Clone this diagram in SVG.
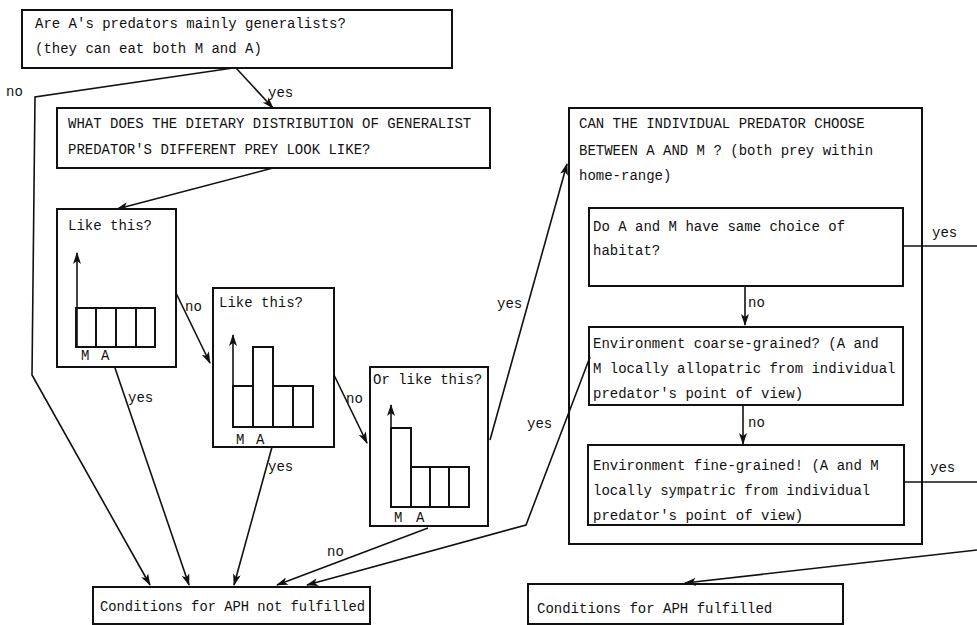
<svg xmlns="http://www.w3.org/2000/svg" width="977" height="625" viewBox="0 0 977 625">
<style>
  text { font-family: "Liberation Mono", "DejaVu Sans Mono", monospace; font-size: 14px; fill: #111; }
  .box { fill: #fff; stroke: #111; stroke-width: 2; }
  .bar { fill: none; stroke: #111; stroke-width: 2; }
  .conn { fill: none; stroke: #111; stroke-width: 1.6; }
  .arr { marker-end: url(#ah); }
</style>
<defs>
  <marker id="ah" viewBox="0 0 12 8" refX="11" refY="4" markerWidth="12" markerHeight="8" markerUnits="userSpaceOnUse" orient="auto">
    <path d="M0,0 L12,4 L0,8 L3,4 z" fill="#111"/>
  </marker>
</defs>
<rect width="977" height="625" fill="#fff"/>

<g id="q-generalists">
  <rect class="box" x="22" y="10" width="430" height="58"/>
  <text x="35" y="28">Are A's predators mainly generalists?</text>
  <text x="35" y="53">(they can eat both M and A)</text>
</g>

<g id="q-dietary">
  <rect class="box" x="57" y="108" width="433" height="60"/>
  <text x="68" y="128">WHAT DOES THE DIETARY DISTRIBUTION OF GENERALIST</text>
  <text x="68" y="154">PREDATOR'S DIFFERENT PREY LOOK LIKE?</text>
</g>

<g id="chart-even">
  <rect class="box" x="57" y="209" width="119" height="158"/>
  <text x="68" y="230">Like this?</text>
  <line class="conn arr" x1="77" y1="347" x2="77" y2="253"/>
  <rect class="bar" x="76" y="308" width="20" height="39"/>
  <rect class="bar" x="96" y="308" width="20" height="39"/>
  <rect class="bar" x="116" y="308" width="20" height="39"/>
  <rect class="bar" x="136" y="308" width="19" height="39"/>
  <text x="81" y="360">M</text>
  <text x="101" y="360">A</text>
</g>

<g id="chart-a-peak">
  <rect class="box" x="213" y="288" width="121" height="159"/>
  <text x="219" y="307">Like this?</text>
  <line class="conn arr" x1="233" y1="427" x2="233" y2="335"/>
  <rect class="bar" x="233" y="386" width="20" height="41"/>
  <rect class="bar" x="253" y="347" width="20" height="80"/>
  <rect class="bar" x="273" y="386" width="20" height="41"/>
  <rect class="bar" x="293" y="386" width="20" height="41"/>
  <text x="236" y="444">M</text>
  <text x="256" y="444">A</text>
</g>

<g id="chart-m-peak">
  <rect class="box" x="370" y="367" width="118" height="159"/>
  <text x="373" y="384">Or like this?</text>
  <line class="conn arr" x1="391" y1="507" x2="391" y2="405"/>
  <rect class="bar" x="391" y="428" width="20" height="79"/>
  <rect class="bar" x="411" y="467" width="19" height="40"/>
  <rect class="bar" x="430" y="467" width="19" height="40"/>
  <rect class="bar" x="449" y="467" width="20" height="40"/>
  <text x="394" y="522">M</text>
  <text x="416" y="522">A</text>
</g>

<g id="q-choose">
  <rect class="box" x="569" y="108" width="353" height="436"/>
  <text x="579" y="128">CAN THE INDIVIDUAL PREDATOR CHOOSE</text>
  <text x="579" y="155">BETWEEN A AND M ? (both prey within</text>
  <text x="579" y="180">home-range)</text>
</g>

<g id="q-habitat">
  <rect class="box" x="589" y="208" width="314" height="78"/>
  <text x="593" y="231">Do A and M have same choice of</text>
  <text x="593" y="255">habitat?</text>
</g>

<g id="q-coarse">
  <rect class="box" x="589" y="327" width="314" height="78"/>
  <text x="593" y="348">Environment coarse-grained? (A and</text>
  <text x="593" y="373">M locally allopatric from individual</text>
  <text x="593" y="398">predator's point of view)</text>
</g>

<g id="fine-grained">
  <rect class="box" x="588" y="445" width="316" height="80"/>
  <text x="593" y="470">Environment fine-grained! (A and M</text>
  <text x="593" y="495">locally sympatric from individual</text>
  <text x="593" y="520">predator's point of view)</text>
</g>

<g id="not-fulfilled">
  <rect class="box" x="93" y="587" width="277" height="37"/>
  <text x="100" y="611" textLength="265" lengthAdjust="spacingAndGlyphs">Conditions for APH not fulfilled</text>
</g>

<g id="fulfilled">
  <rect class="box" x="528" y="584" width="315" height="40"/>
  <text x="537" y="613">Conditions for APH fulfilled</text>
</g>

<g id="connectors">
  <polyline class="conn arr" points="233,68 35,97 32,375 150,585"/>
  <line class="conn arr" x1="236" y1="68" x2="273" y2="108"/>
  <line class="conn arr" x1="273" y1="168" x2="117" y2="209"/>
  <line class="conn arr" x1="176" y1="293" x2="210" y2="363"/>
  <line class="conn arr" x1="115" y1="368" x2="189" y2="585"/>
  <line class="conn arr" x1="334" y1="375" x2="367" y2="443"/>
  <line class="conn arr" x1="272" y1="447" x2="234" y2="585"/>
  <line class="conn arr" x1="428" y1="528" x2="277" y2="585"/>
  <line class="conn arr" x1="490" y1="440" x2="567" y2="164"/>
  <polyline class="conn arr" points="590,357 526,525 307,585"/>
  <line class="conn arr" x1="745" y1="286" x2="745" y2="325"/>
  <line class="conn arr" x1="743" y1="405" x2="743" y2="444"/>
  <line class="conn" x1="903" y1="246" x2="977" y2="246"/>
  <line class="conn" x1="904" y1="482" x2="977" y2="482"/>
  <line class="conn arr" x1="977" y1="550" x2="685" y2="583"/>
  <text x="6" y="96">no</text>
  <text x="268" y="97">yes</text>
  <text x="185" y="311">no</text>
  <text x="128" y="402">yes</text>
  <text x="346" y="403">no</text>
  <text x="268" y="471">yes</text>
  <text x="497" y="308">yes</text>
  <text x="327" y="556">no</text>
  <text x="527" y="428">yes</text>
  <text x="748" y="307">no</text>
  <text x="748" y="427">no</text>
  <text x="932" y="237">yes</text>
  <text x="930" y="472">yes</text>
</g>
</svg>
